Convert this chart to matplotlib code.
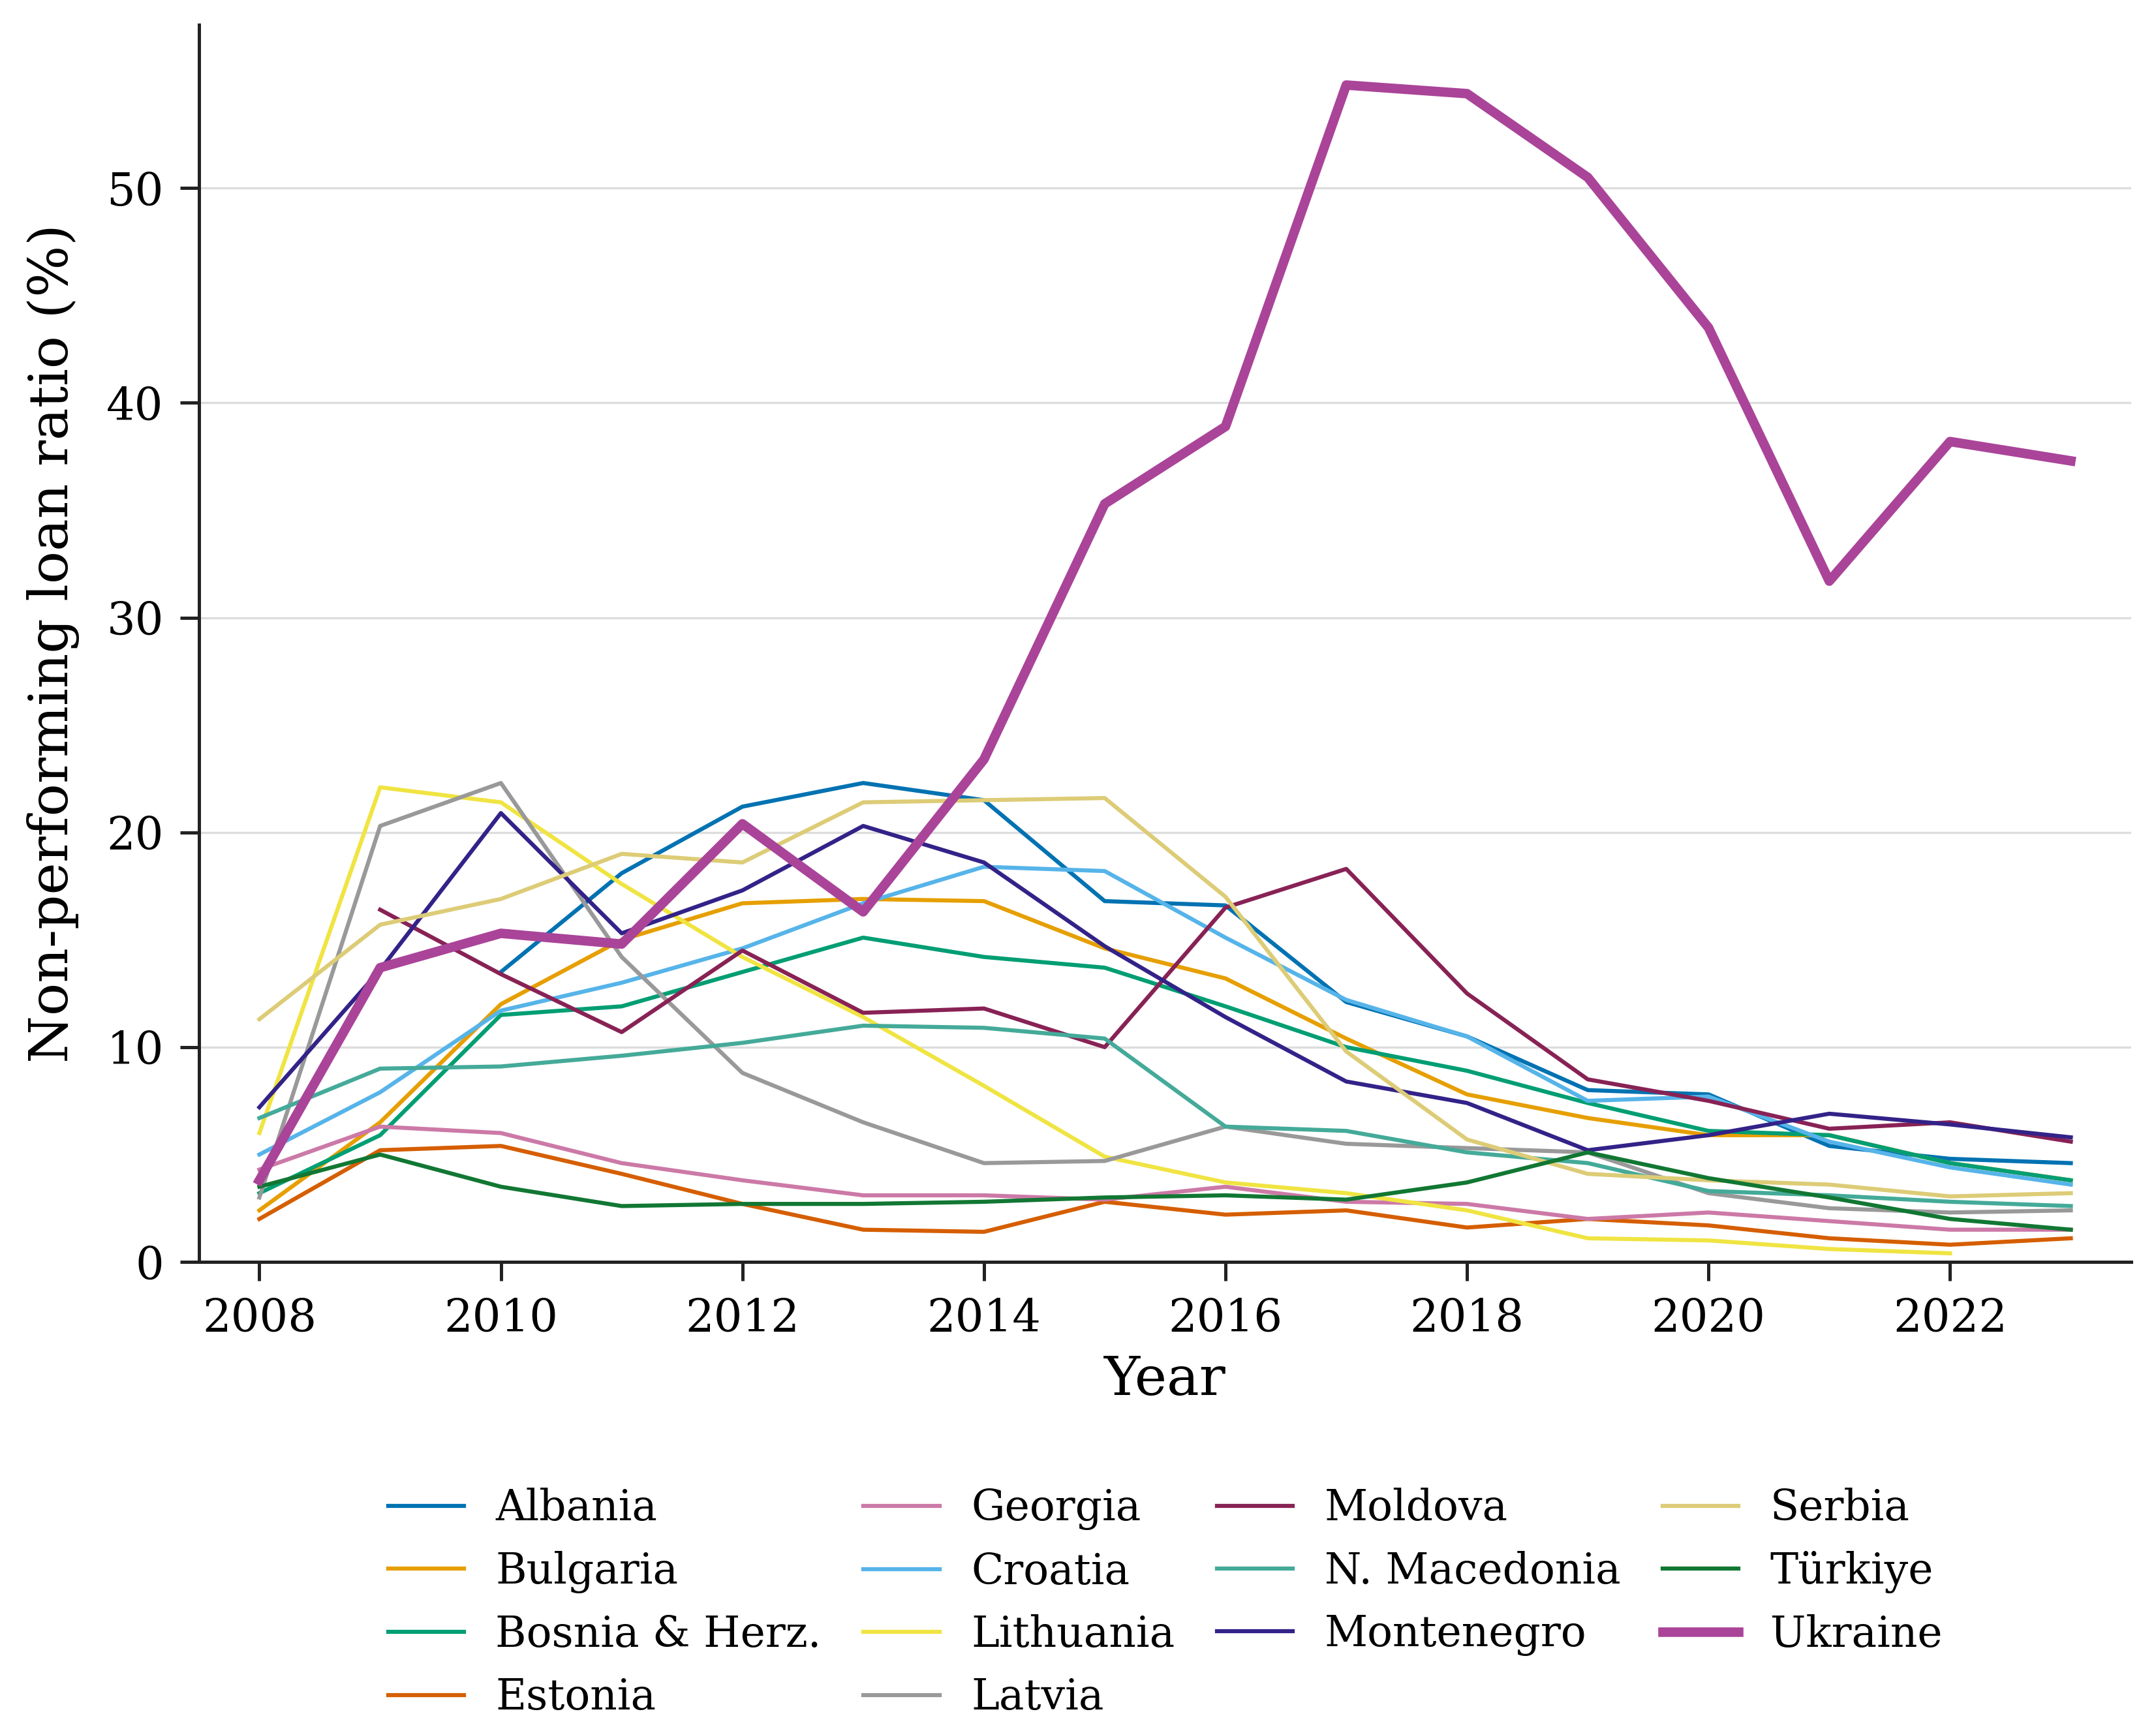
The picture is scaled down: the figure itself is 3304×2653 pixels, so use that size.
import numpy as np
import matplotlib
matplotlib.use("Agg")
import matplotlib.pyplot as plt

plt.rcParams['font.family'] = ['DejaVu Serif']

years = np.arange(2008, 2024)
nan = np.nan

# NPL ratios (%)
albania = [nan, nan, 13.5, 18.1, 21.2, 22.3, 21.5, 16.8, 16.6, 12.1, 10.5, 8.0, 7.8, 5.4, 4.8, 4.6]
bulgaria = [2.4, 6.5, 12.0, 15.0, 16.7, 16.9, 16.8, 14.6, 13.2, 10.4, 7.8, 6.7, 5.9, 5.9, 4.6, 3.8]
bosnia = [3.2, 5.9, 11.5, 11.9, 13.5, 15.1, 14.2, 13.7, 11.9, 10.0, 8.9, 7.4, 6.1, 5.9, 4.6, 3.8]
estonia = [2.0, 5.2, 5.4, 4.1, 2.7, 1.5, 1.4, 2.8, 2.2, 2.4, 1.6, 2.0, 1.7, 1.1, 0.8, 1.1]
georgia = [4.3, 6.3, 6.0, 4.6, 3.8, 3.1, 3.1, 2.9, 3.5, 2.8, 2.7, 2.0, 2.3, 1.9, 1.5, 1.5]
croatia = [5.0, 7.9, 11.7, 13.0, 14.6, 16.7, 18.4, 18.2, 15.1, 12.2, 10.5, 7.5, 7.7, 5.6, 4.4, 3.6]
lithuania = [6.0, 22.1, 21.4, 17.6, 14.2, 11.4, 8.2, 4.9, 3.7, 3.2, 2.4, 1.1, 1.0, 0.6, 0.4, nan]
latvia = [3.0, 20.3, 22.3, 14.2, 8.8, 6.5, 4.6, 4.7, 6.3, 5.5, 5.3, 5.1, 3.2, 2.5, 2.3, 2.4]
moldova = [nan, 16.4, 13.4, 10.7, 14.5, 11.6, 11.8, 10.0, 16.5, 18.3, 12.5, 8.5, 7.5, 6.2, 6.5, 5.6]
macedonia = [6.7, 9.0, 9.1, 9.6, 10.2, 11.0, 10.9, 10.4, 6.3, 6.1, 5.1, 4.6, 3.3, 3.1, 2.8, 2.6]
montenegro = [7.2, 13.6, 20.9, 15.3, 17.3, 20.3, 18.6, 14.7, 11.4, 8.4, 7.4, 5.2, 5.9, 6.9, 6.4, 5.8]
serbia = [11.3, 15.7, 16.9, 19.0, 18.6, 21.4, 21.5, 21.6, 17.0, 9.8, 5.7, 4.1, 3.8, 3.6, 3.05, 3.2]
turkiye = [3.5, 5.0, 3.5, 2.6, 2.7, 2.7, 2.8, 3.0, 3.1, 2.9, 3.7, 5.1, 3.9, 3.0, 2.0, 1.5]
ukraine = [3.8, 13.7, 15.3, 14.8, 20.4, 16.3, 23.4, 35.3, 38.9, 54.8, 54.4, 50.5, 43.5, 31.7, 38.2, 37.3]

countries = ["Albania", "Bulgaria", "Bosnia & Herz.", "Estonia", "Georgia", "Croatia",
             "Lithuania", "Latvia", "Moldova", "N. Macedonia", "Montenegro", "Serbia",
             "Türkiye", "Ukraine"]
series = [albania, bulgaria, bosnia, estonia, georgia, croatia, lithuania, latvia,
          moldova, macedonia, montenegro, serbia, turkiye, ukraine]
colors = ["#0072B2", "#E69F00", "#009E73", "#D55E00", "#CC79A7", "#56B4E9",
          "#F0E442", "#999999", "#882255", "#44AA99", "#332288", "#DDCC77",
          "#117733", "#AA4499"]

fig = plt.figure(figsize=(3304 / 300, 2653 / 300), dpi=300)
ax = fig.add_axes([0.0923, 0.271, 0.8962, 0.7146])

for name, vals, col in zip(countries, series, colors):
    lw = 3.5 if name == "Ukraine" else 1.5
    ax.plot(years, vals, color=col, linewidth=lw, label=name, zorder=3 if name == "Ukraine" else 2)

ax.set_xlim(2007.5, 2023.5)
ax.set_ylim(0, 57.6)
ax.set_xticks(np.arange(2008, 2023, 2))
ax.set_yticks(np.arange(0, 51, 10))
ax.tick_params(labelsize=16.5, length=7, width=1.2, pad=6, color='#222222')
ax.yaxis.grid(True, color='#dddddd', linewidth=0.8)
ax.set_axisbelow(True)
for s in ['top', 'right']:
    ax.spines[s].set_visible(False)
for s in ['left', 'bottom']:
    ax.spines[s].set_linewidth(1.2)
    ax.spines[s].set_color('#222222')

ax.set_xlabel("Year", fontsize=20, labelpad=5)
ax.set_ylabel("Non-performing loan ratio (%)", fontsize=20, labelpad=10)

ax.legend(loc='upper center', bbox_to_anchor=(0.5, -0.152), ncol=4, frameon=False,
          fontsize=15.5, handlelength=1.8, handletextpad=0.75, columnspacing=1.0)

plt.savefig("out.png", dpi=300, facecolor='white')
